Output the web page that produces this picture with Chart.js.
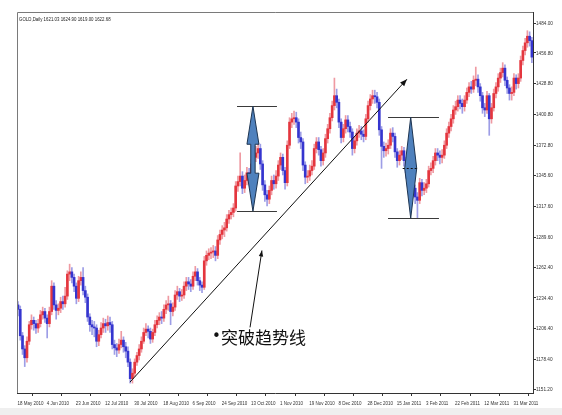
<!DOCTYPE html>
<html>
<head>
<meta charset="utf-8">
<script src="https://cdn.jsdelivr.net/npm/chart.js@4/dist/chart.umd.min.js"></script>
<style>
  html, body { margin: 0; padding: 0; background: #efefef; }
  #wrap { position: relative; width: 562px; height: 415px; }
  #c { display: block; }
</style>
</head>
<body>
<div id="wrap"><canvas id="c" width="562" height="415"></canvas></div>
<script>
// GOLD daily, 18 May 2010 .. Apr 2011
const opens = [
  1228,1224,1200,1188,1180,1195,1210,1214,1211,1207,
  1211,1219,1222,1216,1211,1222,1245,1228,1223,1225,
  1231,1229,1236,1256,1258,1253,1245,1234,1250,1253,
  1241,1235,1217,1210,1208,1207,1195,1201,1207,1211,
  1209,1212,1210,1192,1189,1187,1192,1196,1190,1186,
  1176,1161,1166,1176,1182,1188,1195,1203,1206,1204,
  1197,1203,1210,1214,1217,1216,1224,1228,1229,1222,
  1226,1237,1240,1236,1237,1245,1249,1247,1245,1254,
  1258,1250,1246,1244,1268,1273,1275,1276,1277,1273,
  1287,1292,1296,1298,1306,1310,1312,1316,1336,1340,
  1345,1334,1341,1348,1345,1356,1362,1366,1370,1356,
  1337,1328,1324,1332,1341,1338,1345,1355,1362,1350,
  1339,1373,1394,1397,1398,1394,1380,1376,1355,1344,
  1345,1350,1354,1370,1376,1369,1359,1366,1379,1388,
  1398,1409,1418,1412,1394,1380,1388,1396,1390,1385,
  1370,1377,1384,1386,1383,1381,1397,1409,1415,1418,
  1417,1412,1387,1372,1368,1370,1373,1384,1381,1367,
  1359,1364,1368,1359,1348,1343,1336,1334,1326,1323,
  1339,1332,1334,1338,1350,1352,1359,1366,1364,1362,
  1364,1373,1384,1390,1397,1405,1408,1414,1411,1408,
  1414,1421,1426,1424,1432,1433,1426,1418,1407,1405,
  1418,1397,1407,1420,1426,1434,1439,1443,1432,1425,
  1420,1421,1434,1429,1434,1450,1459,1466,1472,1468
];
const closes = [
  1224,1200,1188,1180,1195,1210,1214,1211,1207,1211,
  1219,1222,1216,1211,1222,1245,1228,1223,1225,1231,
  1229,1236,1256,1258,1253,1245,1234,1250,1253,1241,
  1235,1217,1210,1208,1207,1195,1201,1207,1211,1209,
  1212,1210,1192,1189,1187,1192,1196,1190,1186,1176,
  1161,1166,1176,1182,1188,1195,1203,1206,1204,1197,
  1203,1210,1214,1217,1216,1224,1228,1229,1222,1226,
  1237,1240,1236,1237,1245,1249,1247,1245,1254,1258,
  1250,1246,1244,1268,1273,1275,1276,1277,1273,1287,
  1292,1296,1298,1306,1310,1312,1316,1336,1340,1345,
  1334,1341,1348,1345,1356,1362,1366,1370,1356,1337,
  1328,1324,1332,1341,1338,1345,1355,1362,1350,1339,
  1373,1394,1397,1398,1394,1380,1376,1355,1344,1345,
  1350,1354,1370,1376,1369,1359,1366,1379,1388,1398,
  1409,1418,1412,1394,1380,1388,1396,1390,1385,1370,
  1377,1384,1386,1383,1381,1397,1409,1415,1418,1417,
  1412,1387,1372,1368,1370,1373,1384,1381,1367,1359,
  1364,1368,1359,1348,1343,1336,1334,1326,1323,1339,
  1332,1334,1338,1350,1352,1359,1366,1364,1362,1364,
  1373,1384,1390,1397,1405,1408,1414,1411,1408,1414,
  1421,1426,1424,1432,1433,1426,1418,1407,1405,1418,
  1397,1407,1420,1426,1434,1439,1443,1432,1425,1420,
  1421,1434,1429,1434,1450,1459,1466,1472,1468,1453
];
const highs = [
  1231,1227,1203,1191,1199,1213,1219,1217,1214,1215,
  1223,1226,1225,1219,1226,1250,1248,1232,1229,1235,
  1236,1244,1259,1265,1262,1256,1248,1254,1258,1262,
  1245,1238,1220,1214,1213,1210,1205,1212,1216,1215,
  1218,1217,1213,1196,1193,1197,1204,1199,1194,1190,
  1179,1170,1179,1185,1192,1199,1207,1211,1209,1207,
  1206,1214,1218,1221,1222,1228,1232,1236,1232,1230,
  1241,1245,1243,1242,1249,1253,1253,1251,1258,1263,
  1261,1253,1249,1272,1277,1279,1280,1282,1281,1291,
  1296,1300,1303,1310,1314,1316,1320,1340,1345,1366,
  1349,1346,1353,1352,1360,1367,1372,1376,1374,1359,
  1341,1332,1336,1345,1346,1350,1359,1366,1365,1353,
  1377,1398,1402,1404,1403,1397,1385,1379,1358,1350,
  1355,1359,1374,1380,1380,1372,1370,1383,1392,1402,
  1413,1434,1424,1415,1397,1392,1400,1400,1394,1388,
  1381,1388,1391,1390,1387,1401,1413,1419,1423,1423,
  1421,1415,1390,1376,1375,1378,1388,1389,1384,1370,
  1368,1372,1371,1362,1351,1346,1340,1337,1330,1343,
  1342,1339,1342,1354,1357,1363,1370,1370,1368,1369,
  1377,1388,1394,1401,1409,1413,1418,1418,1415,1418,
  1425,1430,1431,1436,1444,1437,1429,1421,1411,1422,
  1420,1411,1424,1430,1438,1443,1448,1446,1435,1428,
  1426,1438,1437,1438,1454,1463,1470,1477,1476,1471
];
const lows = [
  1218,1196,1183,1172,1176,1192,1206,1205,1202,1203,
  1208,1215,1212,1198,1208,1219,1224,1215,1219,1221,
  1224,1226,1233,1250,1248,1240,1229,1231,1246,1237,
  1230,1213,1204,1201,1199,1190,1191,1198,1203,1203,
  1205,1203,1188,1183,1181,1184,1189,1185,1180,1172,
  1157,1157,1163,1173,1178,1185,1193,1200,1198,1193,
  1194,1200,1207,1210,1211,1213,1220,1223,1210,1218,
  1223,1233,1231,1232,1234,1241,1242,1240,1242,1250,
  1246,1241,1239,1242,1264,1269,1270,1271,1268,1270,
  1283,1288,1290,1295,1302,1306,1308,1313,1331,1336,
  1329,1330,1337,1339,1342,1352,1358,1361,1351,1332,
  1322,1318,1320,1328,1333,1334,1341,1351,1346,1333,
  1336,1370,1389,1392,1389,1375,1370,1350,1338,1339,
  1341,1346,1351,1366,1364,1354,1355,1362,1375,1384,
  1395,1405,1407,1389,1375,1376,1384,1385,1380,1364,
  1366,1373,1380,1378,1376,1378,1394,1405,1411,1411,
  1407,1382,1352,1362,1363,1365,1370,1376,1362,1353,
  1355,1360,1354,1343,1338,1331,1328,1320,1307,1320,
  1327,1328,1330,1335,1346,1348,1355,1359,1356,1357,
  1361,1370,1380,1386,1393,1401,1404,1406,1402,1404,
  1411,1417,1420,1421,1427,1421,1413,1402,1399,1402,
  1382,1393,1404,1416,1422,1430,1435,1427,1420,1414,
  1414,1418,1424,1425,1431,1446,1455,1462,1463,1448
];

// a date label every 13 bars, starting at bar 0
const xTickLabels = ['18 May 2010','4 Jun 2010','23 Jun 2010','12 Jul 2010','30 Jul 2010',
  '18 Aug 2010','6 Sep 2010','24 Sep 2010','13 Oct 2010','1 Nov 2010','19 Nov 2010',
  '8 Dec 2010','28 Dec 2010','15 Jan 2011','3 Feb 2011','22 Feb 2011','12 Mar 2011','31 Mar 2011'];
const labelEvery = 13;
const yTickValues = [1484.00,1456.80,1428.80,1400.80,1372.80,1345.60,1317.60,
  1289.60,1262.40,1234.40,1206.40,1178.40,1151.20];

const headerText = 'GOLD,Daily 1621.03 1624.90 1619.00 1622.68';
const noteText = '突破趋势线';

const UP = '#e4363e', DOWN = '#3535cf';
const UP_WICK = '#ef9aa2', DOWN_WICK = '#9d9de6';
const smallFont = '6px "Liberation Sans", Arial, sans-serif';

const isUp = i => closes[i] >= opens[i];

// annotations, in bar index / price units
const ann = {
  range1: { x: 104.7, top: 1408.4, bottom: 1313.1, from: 97.6, to: 115.4 },
  range2: { x: 175.0, top: 1398.4, bottom: 1306.7, mid: 1352, from: 164.9, to: 187.6 },
  trend: { x1: 49.9, y1: 1157.9, x2: 173.3, y2: 1432.9 },
  pointer: { x1: 103.4, y1: 1207.6, x2: 108.7, y2: 1277.4 },
  note: { x: 88.2, y: 1198.7 }
};

function arrowHead(ctx, x1, y1, x2, y2, len, half) {
  const a = Math.atan2(y2 - y1, x2 - x1);
  ctx.beginPath();
  ctx.moveTo(x2, y2);
  ctx.lineTo(x2 - len * Math.cos(a) + half * Math.sin(a), y2 - len * Math.sin(a) - half * Math.cos(a));
  ctx.lineTo(x2 - len * Math.cos(a) - half * Math.sin(a), y2 - len * Math.sin(a) + half * Math.cos(a));
  ctx.closePath();
  ctx.fill();
}

// narrow text like the terminal's font: squeeze horizontally
function narrowText(ctx, text, x, y, sx) {
  ctx.save();
  ctx.translate(x, y);
  ctx.scale(sx, 1);
  ctx.fillText(text, 0, 0);
  ctx.restore();
}

const overlay = {
  id: 'overlay',
  beforeDraw(chart) {
    const ctx = chart.ctx;
    ctx.save();
    ctx.fillStyle = '#ffffff';
    ctx.fillRect(0, 0, 562, 408);
    ctx.restore();
  },
  afterDraw(chart) {
    const ctx = chart.ctx, xs = chart.scales.x, ys = chart.scales.y, a = chart.chartArea;
    const px = v => xs.getPixelForValue(v), py = v => ys.getPixelForValue(v);
    ctx.save();

    // frame top / left
    ctx.strokeStyle = '#7a7a7a';
    ctx.lineWidth = 1;
    ctx.beginPath();
    ctx.moveTo(a.left + 0.5, a.bottom);
    ctx.lineTo(a.left + 0.5, a.top + 0.5);
    ctx.lineTo(a.right, a.top + 0.5);
    ctx.stroke();

    // header and axis labels (ticks come from the scales)
    ctx.fillStyle = '#222';
    ctx.font = smallFont;
    ctx.textBaseline = 'middle';
    ctx.textAlign = 'left';
    narrowText(ctx, headerText, a.left + 2, a.top + 7, 0.73);
    ctx.fillStyle = '#333';
    xs.ticks.forEach(t => narrowText(ctx, t.label, px(t.value) - 0.5, a.bottom + 10, 0.75));
    ys.ticks.forEach(t => narrowText(ctx, t.label, a.right + 3, py(t.value), 0.78));

    // range lines
    ctx.strokeStyle = '#3a3a3a';
    ctx.beginPath();
    [ann.range1, ann.range2].forEach(r => {
      [r.top, r.bottom].forEach(v => {
        const y = Math.round(py(v)) + 0.5;
        ctx.moveTo(px(r.from), y);
        ctx.lineTo(px(r.to), y);
      });
    });
    ctx.stroke();

    // double arrow
    const r1 = ann.range1, cx = px(r1.x), t = py(r1.top), b = py(r1.bottom);
    const head = 38, hw = 6, sw = 2.2;
    ctx.beginPath();
    ctx.moveTo(cx, t);
    ctx.lineTo(cx + hw, t + head);
    ctx.lineTo(cx + sw, t + head);
    ctx.lineTo(cx + sw, b - head);
    ctx.lineTo(cx + hw, b - head);
    ctx.lineTo(cx, b);
    ctx.lineTo(cx - hw, b - head);
    ctx.lineTo(cx - sw, b - head);
    ctx.lineTo(cx - sw, t + head);
    ctx.lineTo(cx - hw, t + head);
    ctx.closePath();
    ctx.fillStyle = '#4f81bd';
    ctx.fill();
    ctx.strokeStyle = '#1e3552';
    ctx.stroke();

    // diamond
    const r2 = ann.range2, dx = px(r2.x), dt = py(r2.top), db = py(r2.bottom), dm = py(r2.mid);
    ctx.beginPath();
    ctx.moveTo(dx, dt);
    ctx.lineTo(dx + 6, dm);
    ctx.lineTo(dx, db);
    ctx.lineTo(dx - 6, dm);
    ctx.closePath();
    ctx.fillStyle = '#4f81bd';
    ctx.fill();
    ctx.strokeStyle = '#1e3552';
    ctx.stroke();
    ctx.setLineDash([2, 2]);
    ctx.strokeStyle = '#111';
    ctx.beginPath();
    ctx.moveTo(dx - 8, Math.round(dm) + 0.5);
    ctx.lineTo(dx + 8, Math.round(dm) + 0.5);
    ctx.stroke();
    ctx.setLineDash([]);

    // trend line and pointer
    ctx.strokeStyle = '#111';
    ctx.fillStyle = '#111';
    [[ann.trend, 7, 2.8], [ann.pointer, 6, 2.2]].forEach(([l, len, half]) => {
      const x1 = px(l.x1), y1 = py(l.y1), x2 = px(l.x2), y2 = py(l.y2);
      ctx.beginPath();
      ctx.moveTo(x1, y1);
      ctx.lineTo(x2, y2);
      ctx.stroke();
      arrowHead(ctx, x1, y1, x2, y2, len, half);
    });

    // note
    const nx = px(ann.note.x), ny = py(ann.note.y);
    ctx.font = '15px "DejaVu Sans", sans-serif';
    ctx.fillText('•', nx - 4, ny);
    ctx.font = '17px "Noto Sans CJK SC", sans-serif';
    ctx.fillText(noteText, nx + 5, ny);

    ctx.restore();
  }
};

new Chart(document.getElementById('c'), {
  type: 'bar',
  data: {
    datasets: [
      {
        data: lows.map((l, i) => ({ x: i, y: [l, highs[i]] })),
        backgroundColor: ctx => isUp(ctx.dataIndex) ? UP_WICK : DOWN_WICK,
        barThickness: 1,
        grouped: false,
        order: 2
      },
      {
        data: opens.map((o, i) => ({ x: i, y: [o, closes[i]] })),
        backgroundColor: ctx => isUp(ctx.dataIndex) ? UP : DOWN,
        barThickness: 2,
        minBarLength: 1,
        grouped: false,
        order: 1
      }
    ]
  },
  options: {
    responsive: false,
    animation: false,
    devicePixelRatio: 1,
    layout: { padding: { left: 17, top: 12, right: 0, bottom: 0 } },
    plugins: { legend: { display: false }, tooltip: { enabled: false } },
    scales: {
      x: {
        type: 'linear',
        min: -0.45,
        max: 229.5,
        offset: false,
        grid: { drawOnChartArea: false, tickLength: 3, color: '#333' },
        border: { color: '#333' },
        ticks: {
          display: false,
          autoSkip: false,
          callback: (v, i) => xTickLabels[i]
        },
        afterBuildTicks: s => { s.ticks = xTickLabels.map((_, k) => ({ value: k * labelEvery })); },
        afterFit: s => { s.height = 22; }
      },
      y: {
        type: 'linear',
        position: 'right',
        min: 1148,
        max: 1494,
        grid: { drawOnChartArea: false, tickLength: 3, color: '#333' },
        border: { color: '#333' },
        ticks: {
          display: false,
          autoSkip: false,
          callback: v => v.toFixed(2)
        },
        afterBuildTicks: s => { s.ticks = yTickValues.map(v => ({ value: v })); },
        afterFit: s => { s.width = 29; }
      }
    }
  },
  plugins: [overlay]
});
</script>
</body>
</html>
